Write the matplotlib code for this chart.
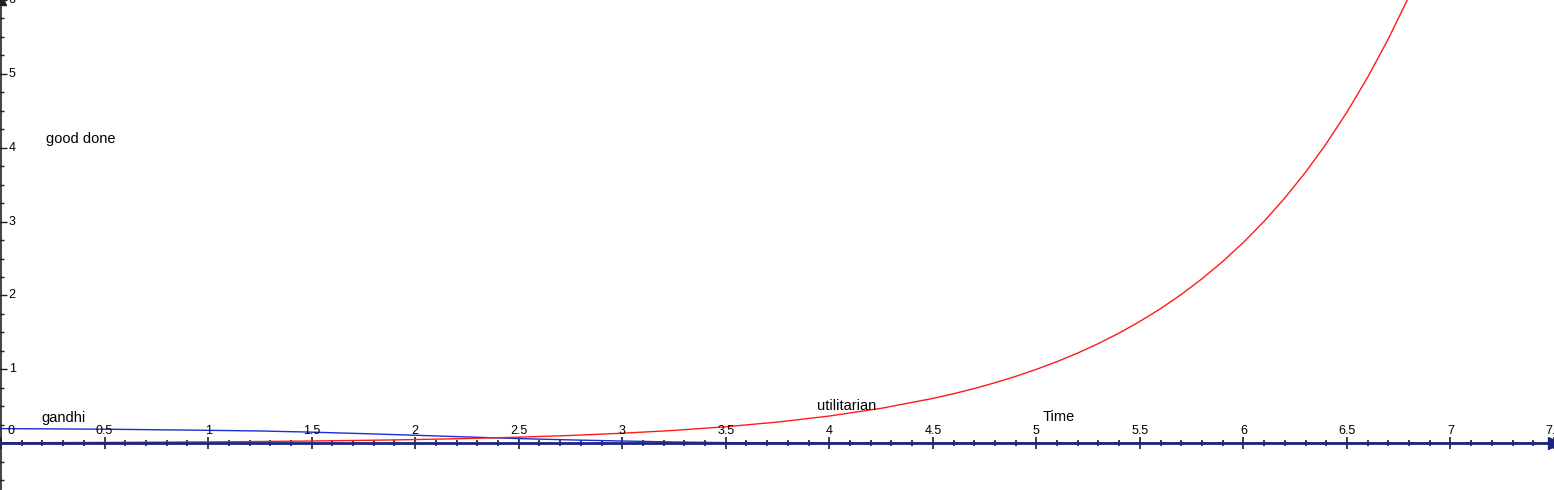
import matplotlib
matplotlib.use("Agg")
import matplotlib.pyplot as plt
import numpy as np

# curve samples
x_util = [0, 0.25, 0.5, 0.75, 1, 1.25, 1.5, 1.75, 2, 2.25, 2.5, 2.75, 3, 3.25, 3.5,
          3.75, 4, 4.25, 4.5, 4.6, 4.7, 4.8, 4.9, 5.0, 5.1, 5.2, 5.3, 5.4, 5.5, 5.6,
          5.7, 5.8, 5.9, 6.0, 6.1, 6.2, 6.3, 6.4, 6.5, 6.6, 6.7, 6.8, 6.9, 7.0]
y_util = [0.0067, 0.0087, 0.0111, 0.0143, 0.0183, 0.0235, 0.0302, 0.0388, 0.0498,
          0.0639, 0.0821, 0.1054, 0.1353, 0.1738, 0.2231, 0.2865, 0.3679, 0.4724,
          0.6065, 0.6703, 0.7408, 0.8187, 0.9048, 1.0, 1.105, 1.221, 1.350, 1.492,
          1.649, 1.822, 2.014, 2.226, 2.460, 2.718, 3.004, 3.320, 3.669, 4.055,
          4.482, 4.953, 5.474, 6.050, 6.686, 7.389]

x_gandhi = [0, 0.5, 1, 1.25, 1.5, 1.75, 2, 2.25, 2.5, 2.75, 3, 3.25, 3.5, 3.75, 4, 5, 7.5]
y_gandhi = [0.198, 0.19, 0.175, 0.166, 0.15, 0.13, 0.108, 0.085, 0.063, 0.045, 0.03,
            0.017, 0.008, 0.004, 0.002, 0.0, 0.0]

x_major = [0, 0.5, 1, 1.5, 2, 2.5, 3, 3.5, 4, 4.5, 5, 5.5, 6, 6.5, 7, 7.5]
x_labels = ["0", "0.5", "1", "1.5", "2", "2.5", "3", "3.5", "4", "4.5", "5", "5.5",
            "6", "6.5", "7", "7.5"]
y_major = [1, 2, 3, 4, 5, 6]

axis_col = "#1c2580"
font = "Liberation Sans"

fig = plt.figure(figsize=(15.54, 4.90), dpi=100)
ax = fig.add_axes([0, 0, 1, 1])
ax.set_xlim(-0.005, 7.49)
ax.set_ylim(-0.633, 5.97)

for s in ["top", "right"]:
    ax.spines[s].set_visible(False)
ax.spines["bottom"].set_position(("data", 0))
ax.spines["left"].set_position(("data", 0))
ax.spines["bottom"].set_color(axis_col)
ax.spines["bottom"].set_linewidth(2)
ax.spines["left"].set_color("#222222")
ax.spines["left"].set_linewidth(1.2)

ax.set_xticks(x_major)
ax.set_xticks(np.arange(0, 7.5, 0.1), minor=True)
ax.set_yticks(y_major)
ax.set_yticks(np.arange(-0.5, 6, 0.25), minor=True)
ax.tick_params(axis="x", which="major", direction="inout", length=9, width=1.2,
               color="#202020", labelbottom=False)
ax.tick_params(axis="x", which="minor", direction="inout", length=4, width=1.2,
               color="#202020")
ax.tick_params(axis="y", which="major", direction="inout", length=8, width=1,
               color="#202020", labelleft=False)
ax.tick_params(axis="y", which="minor", direction="inout", length=4, width=1,
               color="#202020")

# tick labels, GeoGebra style (above the x axis, right of the y axis)
for xv, lab in zip(x_major, x_labels):
    xx = 0.05 if xv == 0 else xv
    ax.text(xx, 0.165, lab, ha="center", va="center", fontsize=9, family=font,
            color="black")
for yv in y_major:
    ax.text(0.037, yv, str(yv), ha="left", va="center", fontsize=9, family=font,
            color="black")

# arrow heads
ax.plot(1, 0, ">", color=axis_col, markersize=8, transform=ax.get_yaxis_transform(),
        clip_on=False)
ax.plot(0, 1, "^", color="#222222", markersize=7, transform=ax.get_xaxis_transform(),
        clip_on=False)

ax.plot(x_gandhi, y_gandhi, color="#1a2fd6", lw=1.0)
ax.plot(x_util, y_util, color="#ff1a1a", lw=1.0)

ax.text(0.215, 4.12, "good done", fontsize=10.5, family=font, va="center")
ax.text(0.195, 0.34, "gandhi", fontsize=10.5, family=font, va="center")
ax.text(3.94, 0.5, "utilitarian", fontsize=10.5, family=font, va="center")
ax.text(5.03, 0.36, "Time", fontsize=10.5, family=font, va="center")

fig.savefig("out.png", dpi=100)
